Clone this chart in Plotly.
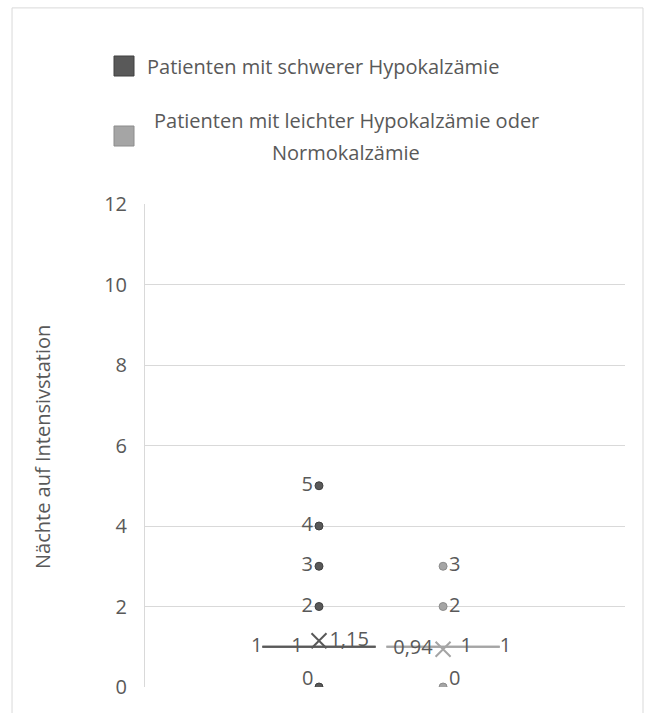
import plotly.graph_objects as go

# ---------------- data ----------------
groups = ["Patienten mit schwerer Hypokalzämie",
          "Patienten mit leichter Hypokalzämie oder Normokalzämie"]
q1_vals = [1, 1]
median_vals = [1, 1]
q3_vals = [1, 1]
mean_vals = [1.15, 0.94]
outliers_severe = [0, 2, 3, 4, 5]
outliers_mild = [0, 2, 3]
y_ticks = [0, 2, 4, 6, 8, 10, 12]
y_title = "Nächte auf Intensivstation"

# ---------------- style ----------------
FONT = "Open Sans"
FS = 20
TXT = "#595959"
GRID = "#d9d9d9"
colors = ["#595959", "#a5a5a5"]
edge_colors = ["#404040", "#8c8c8c"]
centers = [0.3625, 0.621]   # horizontal slot of each series inside the plot
half_w = 0.118
outliers = [outliers_severe, outliers_mild]
Y_MIN = y_ticks[0]

def de(v):
    s = f"{v:.2f}".rstrip("0").rstrip(".") if isinstance(v, float) else str(v)
    return s.replace(".", ",")

fig = go.Figure()
annotations = []

for i, g in enumerate(groups):
    c = centers[i]
    col = colors[i]
    # collapsed box (q1..q3) with median line
    fig.add_trace(go.Scatter(
        x=[c - half_w, c + half_w, c + half_w, c - half_w, c - half_w],
        y=[q1_vals[i], q1_vals[i], q3_vals[i], q3_vals[i], q1_vals[i]],
        mode="lines", line=dict(color=col, width=2), showlegend=False, hoverinfo="skip"))
    fig.add_trace(go.Scatter(
        x=[c - half_w, c + half_w], y=[median_vals[i], median_vals[i]],
        mode="lines", line=dict(color=col, width=2), showlegend=False, hoverinfo="skip"))
    # outlier points
    side = "middle left" if i == 0 else "middle right"
    fig.add_trace(go.Scatter(
        x=[c] * len(outliers[i]), y=outliers[i], mode="markers+text",
        marker=dict(size=8, color=col, line=dict(color=edge_colors[i], width=1)),
        text=["" if v <= Y_MIN else de(v) for v in outliers[i]], textposition=side,
        textfont=dict(family=FONT, size=FS, color=TXT),
        showlegend=False, cliponaxis=True))
    for v in outliers[i]:
        if v <= Y_MIN:
            annotations.append(dict(
                text=de(v), x=c, y=v, xref="x", yref="y", showarrow=False,
                xanchor="right" if i == 0 else "left", yanchor="middle",
                xshift=-4 if i == 0 else 4, yshift=10,
                font=dict(family=FONT, size=FS, color=TXT)))
    # mean marker
    fig.add_trace(go.Scatter(
        x=[c], y=[mean_vals[i]], mode="markers+text",
        marker=dict(symbol="x-thin-open", size=15, color=col, line=dict(color=col, width=2)),
        text=[de(mean_vals[i])],
        textposition="middle right" if i == 0 else "middle left",
        textfont=dict(family=FONT, size=FS, color=TXT),
        showlegend=False))

# box value labels
fig.add_trace(go.Scatter(
    x=[centers[0] - half_w, centers[0] - 0.046],
    y=[q1_vals[0], median_vals[0]], mode="text",
    text=[de(q1_vals[0]), de(median_vals[0])],
    textposition=["middle left", "middle center"],
    textfont=dict(family=FONT, size=FS, color=TXT), showlegend=False))
fig.add_trace(go.Scatter(
    x=[centers[1] + 0.048, centers[1] + half_w],
    y=[median_vals[1], q3_vals[1]], mode="text",
    text=[de(median_vals[1]), de(q3_vals[1])],
    textposition=["middle center", "middle right"],
    textfont=dict(family=FONT, size=FS, color=TXT), showlegend=False))

# legend (manual)
shapes = [
    dict(type="rect", xref="paper", yref="paper", x0=-0.277, x1=1.0375, y0=-0.2, y1=1.406,
         line=dict(color=GRID, width=1), fillcolor="rgba(0,0,0,0)", layer="below"),
    dict(type="rect", xref="paper", yref="paper",
         x0=(114 - 145) / 480, x1=(134 - 145) / 480,
         y0=(687 - 76) / 483, y1=(687 - 56) / 483,
         fillcolor=colors[0], line=dict(color=edge_colors[0], width=1)),
    dict(type="rect", xref="paper", yref="paper",
         x0=(114 - 145) / 480, x1=(134 - 145) / 480,
         y0=(687 - 146) / 483, y1=(687 - 126) / 483,
         fillcolor=colors[1], line=dict(color=edge_colors[1], width=1)),
]
words = groups[1].split(" ")
annotations += [
    dict(text=groups[0], xref="paper", yref="paper", x=(145 - 145) / 480, y=(687 - 67) / 483,
         xanchor="left", yanchor="middle", showarrow=False,
         font=dict(family=FONT, size=FS, color=TXT)),
    dict(text=" ".join(words[:-1]), xref="paper", yref="paper", x=(346 - 145) / 480,
         y=(687 - 121) / 483, xanchor="center", yanchor="middle", showarrow=False,
         font=dict(family=FONT, size=FS, color=TXT)),
    dict(text=words[-1], xref="paper", yref="paper", x=(346 - 145) / 480,
         y=(687 - 153) / 483, xanchor="center", yanchor="middle", showarrow=False,
         font=dict(family=FONT, size=FS, color=TXT)),
    dict(text=y_title, xref="paper", yref="paper", x=(43 - 145) / 480, y=0.497,
         textangle=-90, xanchor="center", yanchor="middle", showarrow=False,
         font=dict(family=FONT, size=FS, color=TXT)),
]

fig.update_layout(
    width=646, height=713,
    margin=dict(l=145, r=21, t=204, b=26),
    paper_bgcolor="white", plot_bgcolor="white",
    shapes=shapes, annotations=annotations,
    showlegend=False,
    xaxis=dict(range=[0, 1], visible=False, fixedrange=True),
    yaxis=dict(range=[0, 12], tickvals=y_ticks, ticktext=[str(v) for v in y_ticks],
               showgrid=True, gridcolor=GRID, gridwidth=1,
               showline=True, linecolor=GRID, linewidth=1,
               zeroline=False, ticks="", ticklabelstandoff=13,
               tickfont=dict(family=FONT, size=FS, color=TXT)),
)

fig.write_html("out.html", config={"displayModeBar": False},
               post_script="document.body.style.margin='0';")
